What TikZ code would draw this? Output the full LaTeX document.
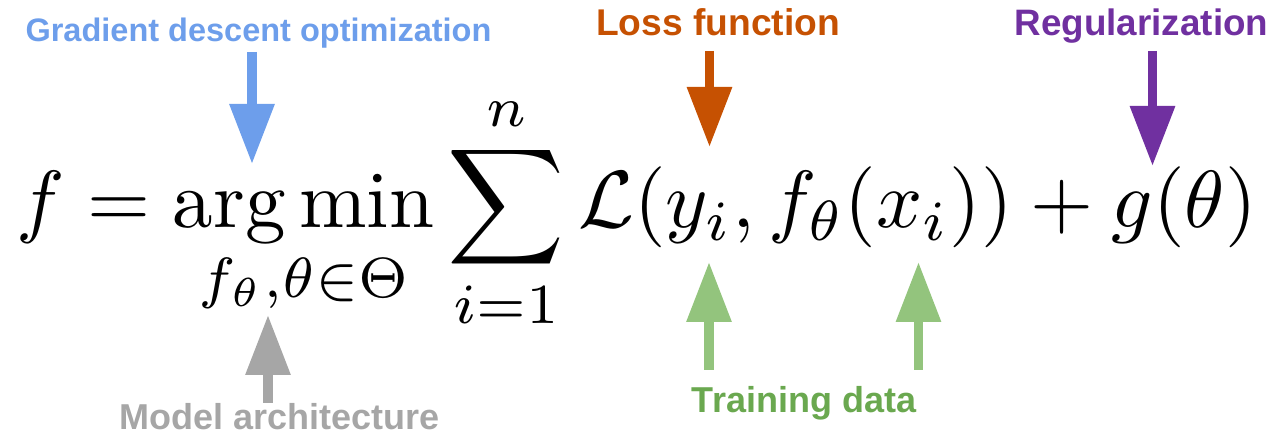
\documentclass[tikz,border=0pt]{standalone}
\usepackage{amsmath}
\usepackage{fontspec}
\setsansfont{Liberation Sans}
\usetikzlibrary{arrows.meta}
\definecolor{gdblue}{HTML}{6D9EEB}
\definecolor{lossorange}{HTML}{C65102}
\definecolor{regpurple}{HTML}{7030A0}
\definecolor{archgray}{HTML}{A6A6A6}
\definecolor{datagreen}{HTML}{93C47D}
\definecolor{datagreentext}{HTML}{6AA84F}
\begin{document}
\begin{tikzpicture}[x=0.5pt,y=-0.5pt,
  lbl/.style={font=\sffamily\bfseries\fontsize{#1}{20}\selectfont, inner sep=0pt},
  lbl/.default=18,
  bigarrow/.style={line width=4.7pt, -{Triangle[width=21.5pt,length=30pt]}}]
\useasboundingbox (0,0) rectangle (1274,437);
% formula
\node[anchor=base west, inner sep=0pt] (eq) at (16,228)
  {\resizebox{620pt}{!}{$\displaystyle f = \operatorname*{arg\,min}_{f_\theta,\theta\in\Theta} \sum_{i=1}^{n} \mathcal{L}(y_i, f_\theta(x_i)) + g(\theta)$}};
% labels
\node[lbl=16.25, text=gdblue, anchor=base] (gd) at (258.5,42) {Gradient descent optimization};
\node[lbl=18.6, text=lossorange, anchor=base] (loss) at (718,36) {Loss function};
\node[lbl=18.4, text=regpurple, anchor=base] (reg) at (1141.5,36) {Regularization};
\node[lbl=18, text=archgray, anchor=base] (arch) at (280,430) {Model architecture};
\node[lbl=18, text=datagreentext, anchor=base] (data) at (804,413) {Training data};
% arrow end points
\coordinate (gdA) at (252,52);   \coordinate (gdB) at (252,164);
\coordinate (lossA) at (709.5,51); \coordinate (lossB) at (709.5,147);
\coordinate (regA) at (1152.5,51); \coordinate (regB) at (1152.5,166);
\coordinate (archA) at (268,403); \coordinate (archB) at (268,315);
\coordinate (yA) at (709,370);   \coordinate (yB) at (709,262);
\coordinate (xA) at (918.5,370); \coordinate (xB) at (918.5,262);
% arrows
\draw[bigarrow, gdblue] (gdA) -- (gdB);
\draw[bigarrow, lossorange] (lossA) -- (lossB);
\draw[bigarrow, regpurple] (regA) -- (regB);
\draw[bigarrow, archgray] (archA) -- (archB);
\draw[bigarrow, datagreen] (yA) -- (yB);
\draw[bigarrow, datagreen] (xA) -- (xB);
\end{tikzpicture}
\end{document}
